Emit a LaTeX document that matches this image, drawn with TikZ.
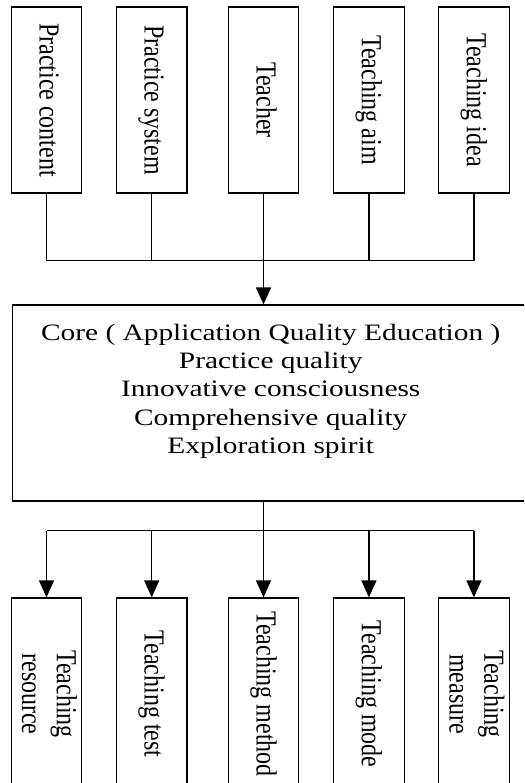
\documentclass[tikz,border=0pt]{standalone}
\usepackage{fontspec}
\setmainfont{Liberation Serif}
\usetikzlibrary{arrows.meta}
\newcommand{\vtext}[1]{\rotatebox{-90}{\scalebox{1}[1.21]{\begin{tabular}{@{}c@{}}#1\end{tabular}}}}
\begin{document}
\begin{tikzpicture}[x=1pt,y=-1pt,
  box/.style={draw,line width=1.2pt,inner sep=0pt,minimum width=70.4pt,minimum height=186pt,
    font=\fontsize{24}{28.8}\selectfont},
  lowbox/.style={box,minimum height=192pt},
  link/.style={line width=1.2pt},
  arr/.style={line width=1.2pt,-{Triangle[width=15pt,length=17pt]}}]
\useasboundingbox (0,0) rectangle (524,783);
\clip (0,0) rectangle (524,783);
\fill[white] (0,0) rectangle (524,783);
% top boxes
\node[box] (p1) at (46.5,100) {\vtext{Practice content}};
\node[box] (p2) at (151.7,100) {\vtext{Practice system}};
\node[box] (p3) at (263.5,100) {\vtext{Teacher}};
\node[box] (p4) at (368.9,100) {\vtext{Teaching aim}};
\node[box] (p5) at (473.9,100) {\vtext{Teaching idea}};
% core box
\node[draw,line width=1.2pt,inner sep=0pt,minimum width=517.3pt,minimum height=196pt] (core) at (271.35,403) {};
\node[inner sep=0pt,anchor=north,font=\fontsize{23.5}{28.3}\selectfont] (coretext) at (270.7,320.2)
  {\scalebox{1.25}[1]{\begin{tabular}[t]{@{}c@{}}Core ( Application Quality Education )\\Practice quality\\Innovative consciousness\\Comprehensive quality\\Exploration spirit\end{tabular}}};
% bottom boxes
\node[lowbox] (q1) at (46.5,694) {\vtext{Teaching\\resource}};
\node[lowbox] (q2) at (151.7,694) {\vtext{Teaching test}};
\node[lowbox] (q3) at (263.5,694) {\vtext{Teaching method}};
\node[lowbox] (q4) at (368.9,694) {\vtext{Teaching mode}};
\node[lowbox] (q5) at (473.9,694) {\vtext{Teaching\\measure}};
% junction coordinates
\coordinate (jt) at (263.5,260.7);
\coordinate (jb) at (263.5,530.7);
% top connectors
\draw[link] (p1.south) |- (p5.south |- jt) -- (p5.south);
\draw[link] (p2.south) -- (p2.south |- jt);
\draw[link] (p4.south) -- (p4.south |- jt);
\draw[arr] (p3.south) -- (p3.south |- core.north);
% bottom connectors
\draw[link] (q1.north |- jb) -- (q5.north |- jb);
\draw[arr] (q3.north |- core.south) -- (q3.north);
\draw[arr] (q1.north |- jb) -- (q1.north);
\draw[arr] (q2.north |- jb) -- (q2.north);
\draw[arr] (q4.north |- jb) -- (q4.north);
\draw[arr] (q5.north |- jb) -- (q5.north);
\end{tikzpicture}
\end{document}
